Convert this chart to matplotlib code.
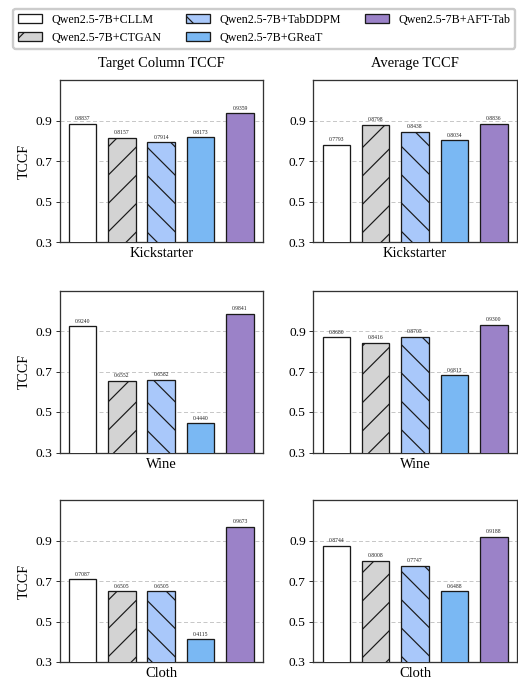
import matplotlib
matplotlib.use("Agg")
import matplotlib.pyplot as plt
import numpy as np

methods = ["Qwen2.5-7B+CLLM", "Qwen2.5-7B+CTGAN", "Qwen2.5-7B+TabDDPM",
           "Qwen2.5-7B+GReaT", "Qwen2.5-7B+AFT-Tab"]
datasets = ["Kickstarter", "Wine", "Cloth"]
col_titles = ["Target Column TCCF", "Average TCCF"]

kick_target = [0.8837, 0.8157, 0.7914, 0.8173, 0.9359]
kick_avg = [0.7793, 0.8798, 0.8438, 0.8034, 0.8836]
wine_target = [0.9240, 0.6552, 0.6582, 0.4440, 0.9841]
wine_avg = [0.8680, 0.8416, 0.8705, 0.6813, 0.9300]
cloth_target = [0.7087, 0.6505, 0.6505, 0.4115, 0.9673]
cloth_avg = [0.8744, 0.8008, 0.7747, 0.6488, 0.9188]

yticks = [0.3, 0.5, 0.7, 0.9]

colors = ["#ffffff", "#d3d3d3", "#a9c8fa", "#7ab8f3", "#9b82c8"]
hatches = ["", "//", "\\\\", "", ""]

DPI = 170
W, H = 518, 680
PX = 72.0 / DPI  # points per pixel

plt.rcParams["font.family"] = ["Liberation Serif", "DejaVu Serif"]
plt.rcParams["hatch.linewidth"] = 1.2 * PX
plt.rcParams["hatch.color"] = "black"

fig = plt.figure(figsize=(W / DPI, H / DPI), dpi=DPI)

col_left = [59.5, 313.3]
col_w = 203.5
row_top = [80, 290.5, 500]
row_h = 162

table = [[kick_target, kick_avg], [wine_target, wine_avg], [cloth_target, cloth_avg]]

x = np.arange(len(methods))
for r in range(3):
    for c in range(2):
        ax = fig.add_axes([col_left[c] / W, 1 - (row_top[r] + row_h) / H,
                           col_w / W, row_h / H])
        vals = table[r][c]
        bars = ax.bar(x, vals, width=0.7, color=colors, edgecolor="#1a1a1a",
                      linewidth=1.3 * PX, zorder=3)
        for b, h in zip(bars, hatches):
            b.set_hatch(h)
        for xi, v in zip(x, vals):
            ax.annotate(f"{v:.4f}", (xi, v), xytext=(0, 2.5 * PX),
                        textcoords="offset points", ha="center", va="bottom",
                        fontsize=5.6 * PX, color="#222222")
        ax.set_ylim(0.3, 1.1)
        ax.set_yticks(yticks)
        ax.set_yticklabels([f"{t:.1f}" for t in yticks], fontsize=13.5 * PX)
        ax.set_xticks([])
        ax.tick_params(axis="y", length=4.5 * PX, width=1.0 * PX, pad=3 * PX,
                       color="#333333")
        ax.yaxis.grid(True, linestyle=(0, (4, 2.5)), linewidth=1.0 * PX,
                      color="#c8c8c8", zorder=0)
        ax.set_axisbelow(True)
        for s in ax.spines.values():
            s.set_linewidth(1.3 * PX)
            s.set_color("#333333")
        ax.set_xlabel(datasets[r], fontsize=14.5 * PX, labelpad=5 * PX)
        if c == 0:
            ax.set_ylabel("TCCF", fontsize=14 * PX, labelpad=4 * PX)
        if r == 0:
            ax.set_title(col_titles[c], fontsize=14.5 * PX, pad=13 * PX)

handles = [plt.Rectangle((0, 0), 1, 1, facecolor=colors[i], edgecolor="#1a1a1a",
                         linewidth=1.3 * PX, hatch=hatches[i]) for i in range(5)]
fig.legend(handles, methods, loc="upper left", ncol=3,
           bbox_to_anchor=(13.3 / W, 1 - 9 / H), fontsize=12 * PX,
           frameon=True, borderaxespad=0, framealpha=1, edgecolor="#cccccc")

fig.savefig("out.png", dpi=DPI)
